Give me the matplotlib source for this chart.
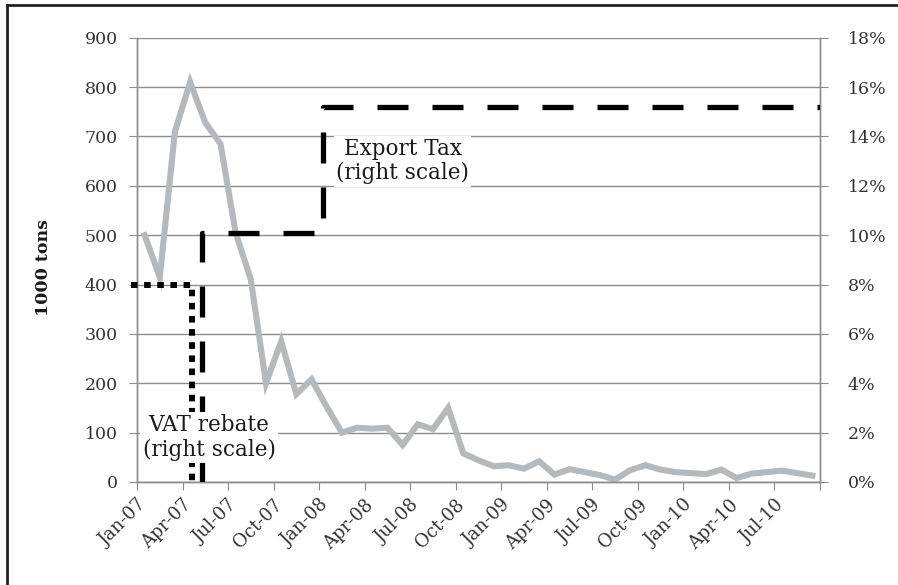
import numpy as np
import matplotlib
matplotlib.use("Agg")
import matplotlib.pyplot as plt
import matplotlib.transforms as mtransforms
from matplotlib.lines import Line2D

# monthly exports, Jan-07 .. Sep-10 (1000 tons)
exports = [500, 415, 710, 810, 728, 685, 505, 410, 200, 285,
           178, 208, 152, 100, 110, 108, 110, 75, 117, 107,
           150, 58, 44, 32, 34, 27, 42, 15, 26, 20,
           14, 5, 24, 34, 25, 20, 18, 16, 25, 8,
           17, 20, 23, 18, 13]
tick_labels = ['Jan-07', 'Apr-07', 'Jul-07', 'Oct-07', 'Jan-08', 'Apr-08',
               'Jul-08', 'Oct-08', 'Jan-09', 'Apr-09', 'Jul-09', 'Oct-09',
               'Jan-10', 'Apr-10', 'Jul-10']

# policy steps (x in months from Jan-07, y in %)
vat_x = [-0.4, 3.6, 3.6]
vat_y = [8.0, 8.0, 0.0]
tax_x = [4.25, 4.25, 12.25, 12.25, 45]
tax_y = [0.0, 10.1, 10.1, 15.2, 15.2]

serif = 'DejaVu Serif'
tick_col = '#333333'
grid_col = '#8c8c8c'

fig = plt.figure(figsize=(8.98, 5.85), dpi=100)
ax = fig.add_axes([137/898, 1 - 482/585, (820 - 137)/898, (482 - 37.7)/585])
ax2 = ax.twinx()

n = len(exports)
xc = np.arange(n) + 0.5
ax.plot(xc, exports, color='#b5b9bb', lw=4.4, solid_joinstyle='miter', zorder=2)

ax.set_xlim(0, n)
ax.set_ylim(0, 900)
ax.set_yticks(np.arange(0, 901, 100))
ax.set_xticks(np.arange(0, n + 1, 3))
ax.set_xticklabels(tick_labels + [''], rotation=45, ha='right', va='top',
                   rotation_mode='anchor', family=serif, fontsize=13, color=tick_col)
shift = mtransforms.ScaledTranslation(7/100, 0, fig.dpi_scale_trans)
for t in ax.get_xticklabels():
    t.set_transform(t.get_transform() + shift)
ax.tick_params(axis='x', length=6, color=grid_col, pad=4)
ax.tick_params(axis='y', length=6, color=grid_col, labelsize=12.5, labelcolor=tick_col, pad=8)
for t in ax.get_yticklabels():
    t.set_family(serif)
ax.grid(axis='y', color=grid_col, lw=1)
ax.set_axisbelow(True)

ax2.set_ylim(0, 18)
ax2.set_yticks(np.arange(0, 19, 2))
ax2.set_yticklabels([f'{v}%' for v in range(0, 19, 2)], family=serif,
                    fontsize=12.5, color=tick_col)
ax2.tick_params(axis='y', length=6, color=grid_col, pad=14)

for a in (ax, ax2):
    a.spines['top'].set_visible(False)
    for s in ('left', 'right', 'bottom'):
        a.spines[s].set_color(grid_col)
        a.spines[s].set_linewidth(1)

ax2.plot(vat_x, vat_y, color='black', lw=4.3, ls=(0, (1.1, 1.1)),
         dash_capstyle='butt', clip_on=False, zorder=3)
# dashes ~31 px on, ~24 px off
tax_lw = 3.8
ax2.plot(tax_x, tax_y, color='black', lw=tax_lw,
         ls=(0, (31*0.72/tax_lw, 24*0.72/tax_lw)),
         dash_capstyle='butt', zorder=3)

box = dict(facecolor='white', edgecolor='none', pad=1.5)
ax2.text(4.75, 1.8, 'VAT rebate\n(right scale)', ha='center', va='center',
         family=serif, fontsize=15.5, color='#1a1a1a', linespacing=1.15,
         bbox=box, zorder=4)
ax2.text(17.5, 13.0, 'Export Tax\n(right scale)', ha='center', va='center',
         family=serif, fontsize=15.5, color='#1a1a1a', linespacing=1.15,
         bbox=box, zorder=4)

fig.text(43/898, 1 - 268/585, '1000 tons', rotation=90, ha='center', va='center',
         family=serif, fontweight='bold', fontsize=12.5, color='#1a1a1a')

# outer frame (top and left edges visible)
fig.add_artist(Line2D([7/898, 7/898], [0, 1 - 5/585], transform=fig.transFigure,
                      color='#222222', lw=2))
fig.add_artist(Line2D([7/898, 1], [1 - 5/585, 1 - 5/585], transform=fig.transFigure,
                      color='#222222', lw=2))

fig.savefig('out.png', dpi=100)
